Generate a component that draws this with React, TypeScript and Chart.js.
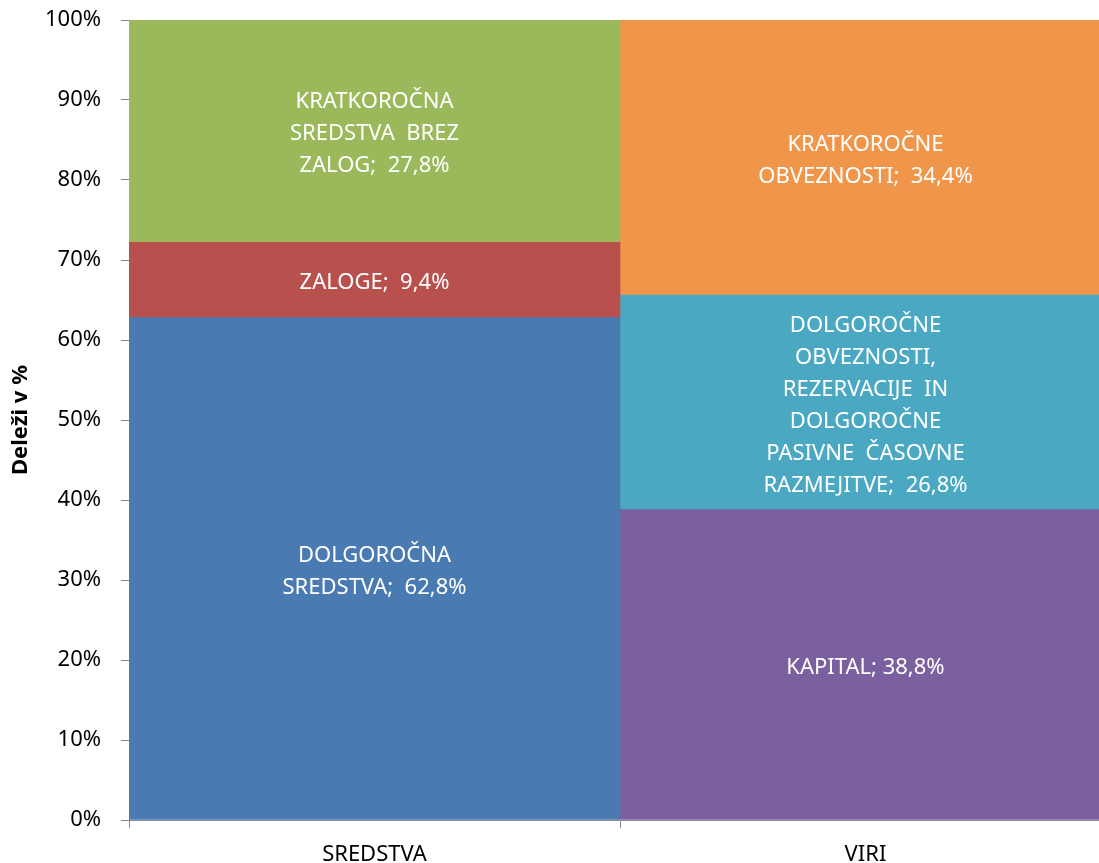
import React, { useEffect, useRef } from "react";
import { Chart, registerables } from "chart.js";

Chart.register(...registerables);

const categories = ["SREDSTVA", "VIRI"];
const seriesNames = [
  "DOLGOROČNA SREDSTVA",
  "ZALOGE",
  "KRATKOROČNA SREDSTVA BREZ ZALOG",
  "KAPITAL",
  "DOLGOROČNE OBVEZNOSTI, REZERVACIJE IN DOLGOROČNE PASIVNE ČASOVNE RAZMEJITVE",
  "KRATKOROČNE OBVEZNOSTI",
];
const dolgorocnaSredstva = [62.8, null];
const zaloge = [9.4, null];
const kratkorocnaSredstva = [27.8, null];
const kapital = [null, 38.8];
const dolgorocneObveznosti = [null, 26.8];
const kratkorocneObveznosti = [null, 34.4];
const seriesValues = [
  dolgorocnaSredstva,
  zaloge,
  kratkorocnaSredstva,
  kapital,
  dolgorocneObveznosti,
  kratkorocneObveznosti,
];
const labelLines = [
  ["DOLGOROČNA", "SREDSTVA;  62,8%"],
  ["ZALOGE;  9,4%"],
  ["KRATKOROČNA", "SREDSTVA  BREZ", "ZALOG;  27,8%"],
  ["KAPITAL; 38,8%"],
  ["DOLGOROČNE", "OBVEZNOSTI,", "REZERVACIJE  IN", "DOLGOROČNE", "PASIVNE  ČASOVNE", "RAZMEJITVE;  26,8%"],
  ["KRATKOROČNE", "OBVEZNOSTI;  34,4%"],
];
const colors = ["#4a7ab2", "#b8504d", "#9bb85b", "#7b60a0", "#4ba8c2", "#f0964b"];
const yTicks = [0, 10, 20, 30, 40, 50, 60, 70, 80, 90, 100];

const FONT = "'Noto Sans', sans-serif";

const labelPlugin = {
  id: "segLabels",
  afterDatasetsDraw(chart: any) {
    const ctx = chart.ctx;
    ctx.save();
    ctx.fillStyle = "#ffffff";
    ctx.font = `22px ${FONT}`;
    ctx.textAlign = "center";
    ctx.textBaseline = "middle";
    const lh = 32;
    chart.data.datasets.forEach((ds: any, di: number) => {
      const meta = chart.getDatasetMeta(di);
      ds.data.forEach((v: any, i: number) => {
        if (v == null) return;
        const el = meta.data[i];
        const cx = el.x;
        const cy = (el.y + el.base) / 2 + 3;
        const lines = labelLines[di];
        const start = cy - ((lines.length - 1) * lh) / 2;
        lines.forEach((t, li) => ctx.fillText(t, cx, start + li * lh));
      });
    });
    ctx.restore();
  },
};

export default function App() {
  const ref = useRef<HTMLCanvasElement>(null);
  useEffect(() => {
    if (!ref.current) return;
    const chart = new Chart(ref.current, {
      type: "bar",
      data: {
        labels: categories,
        datasets: seriesValues.map((vals, i) => ({
          label: seriesNames[i],
          data: vals,
          backgroundColor: colors[i],
          borderWidth: 0,
          categoryPercentage: 1,
          barPercentage: 1,
          skipNull: true,
        })) as any,
      },
      options: {
        responsive: false,
        animation: false,
        devicePixelRatio: 1,
        layout: { padding: { top: 20, left: 0, right: 0, bottom: 0 } },
        plugins: { legend: { display: false }, tooltip: { enabled: false } },
        scales: {
          x: {
            stacked: true,
            grid: { drawOnChartArea: false, color: "#868686", tickLength: 8, offset: true },
            border: { color: "#868686" },
            ticks: { color: "#000", font: { family: FONT, size: 22 }, padding: 14 },
            afterFit: (s: any) => { s.height = 43; s.paddingLeft = 0; s.paddingRight = 0; },
          },
          y: {
            stacked: true,
            min: 0,
            max: 100,
            afterBuildTicks: (s: any) => { s.ticks = yTicks.map((v) => ({ value: v })); },
            grid: { drawOnChartArea: false, color: "#868686", tickLength: 8 },
            border: { color: "#868686" },
            ticks: {
              color: "#000",
              font: { family: FONT, size: 22 },
              padding: 20,
              callback: (v: any) => v + "%",
            },
            title: {
              display: true,
              text: "Deleži v %",
              color: "#000",
              font: { family: FONT, size: 22, weight: "bold" },
              padding: { top: 8, bottom: 0 },
            },
            afterFit: (s: any) => { s.width = 129; s.paddingTop = 0; s.paddingBottom = 0; },
          },
        },
      },
      plugins: [labelPlugin],
    });
    return () => chart.destroy();
  }, []);
  return (
    <div style={{ position: "absolute", left: 0, top: 0, width: 1099, height: 863, overflow: "hidden", background: "#fff" }}>
      <canvas ref={ref} width={1111} height={863} style={{ display: "block" }} />
    </div>
  );
}
